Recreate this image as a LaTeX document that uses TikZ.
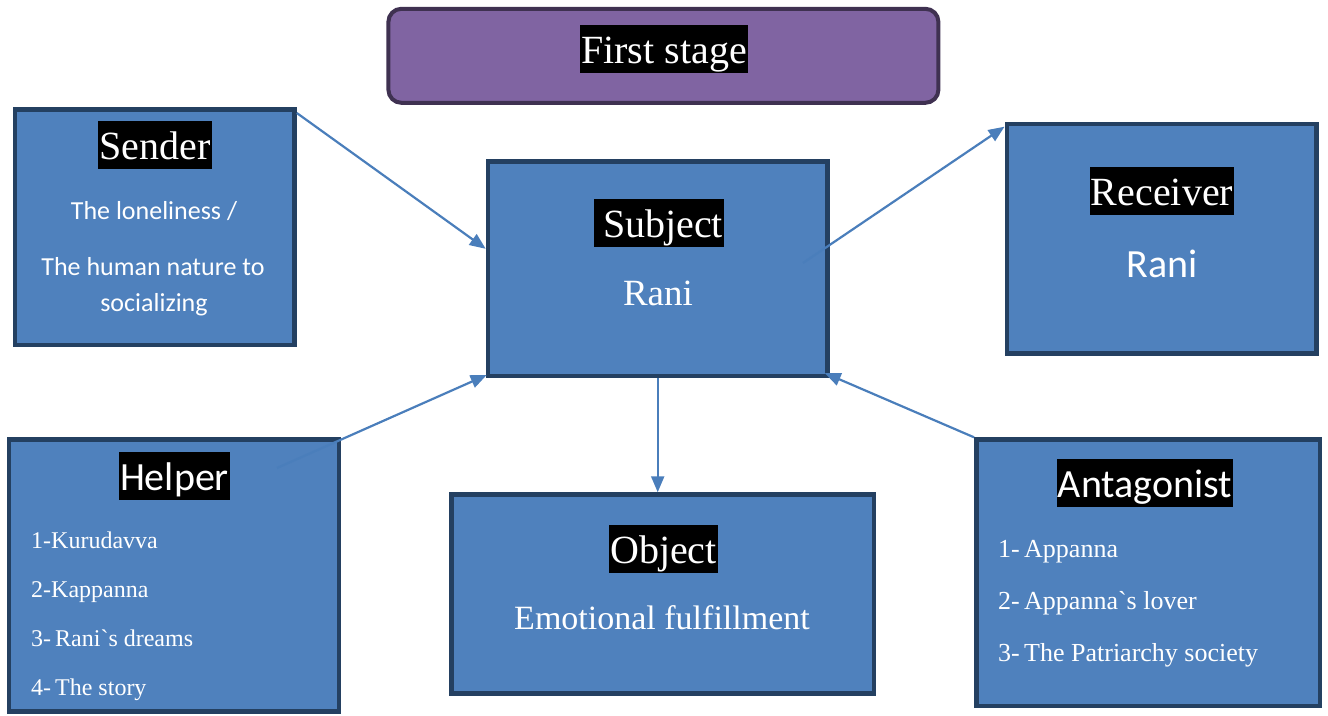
\documentclass[tikz,border=0pt]{standalone}
\usepackage{fontspec}
\setmainfont{Liberation Serif}
\newfontfamily\calibri{Carlito}
\definecolor{blue1}{RGB}{79, 129, 189}
\definecolor{navy1}{RGB}{36, 64, 97}
\definecolor{purple1}{RGB}{128, 100, 162}
\definecolor{plum1}{RGB}{63, 49, 81}
\definecolor{line1}{RGB}{74, 126, 187}
\usetikzlibrary{arrows.meta, calc}

\tikzset{
  actbox/.style={draw=navy1, fill=blue1, line width=4.5pt, rectangle, inner sep=0pt},
  tag/.style={fill=black, text=white, inner xsep=1pt, inner ysep=1pt, text height=37pt, text depth=9pt, anchor=base, font=\fontsize{40}{48}\selectfont},
  tagsans/.style={tag, font=\calibri\fontsize{40}{48}\selectfont},
  body/.style={text=white, inner sep=0pt, anchor=base},
  item/.style={body, anchor=base west},
  link/.style={draw=line1, line width=2.2pt, -{Triangle[length=16pt, width=13pt]}},
}

\begin{document}
\begin{tikzpicture}[x=1pt, y=-1pt]
  \useasboundingbox (0,0) rectangle (1328,715);

  % title
  \node[draw=plum1, fill=purple1, line width=4pt, rounded corners=13pt, minimum width=550pt, minimum height=94pt, inner sep=0pt] (stage) at (663.4,55.8) {};
  \node[tag] (stagetag) at (664,63) {First stage};

  % actant boxes
  \node[actbox, minimum width=279.5pt, minimum height=235.5pt] (sender) at (154.8,227) {};
  \node[actbox, minimum width=339.5pt, minimum height=214.5pt] (subject) at (657.7,268.5) {};
  \node[actbox, minimum width=309.5pt, minimum height=229.5pt] (receiver) at (1161.5,238.7) {};
  \node[actbox, minimum width=330pt, minimum height=272pt] (helper) at (174,575.7) {};
  \node[actbox, minimum width=422.5pt, minimum height=199pt] (object) at (662.5,594) {};
  \node[actbox, minimum width=343.5pt, minimum height=266.5pt] (antagonist) at (1148,572.8) {};

  % sender
  \node[tag] (sendertag) at (155,159) {Sender};
  \node[body, font=\calibri\fontsize{26}{31}\selectfont] (sender1) at (154,219) {The loneliness /};
  \node[body, font=\calibri\fontsize{26}{31}\selectfont] (sender2) at (153,275) {The human nature to};
  \node[body, font=\calibri\fontsize{26}{31}\selectfont] (sender3) at (154,311) {socializing};

  % subject
  \node[tag] (subjecttag) at (659,237) {\hspace{8pt}Subject};
  \node[body, font=\fontsize{37}{44}\selectfont] (subjectname) at (658,305) {Rani};

  % receiver
  \node[tag] (receivertag) at (1162,205) {Receiver};
  \node[body, font=\calibri\fontsize{40}{48}\selectfont] (receivername) at (1162,277) {Rani};

  % object
  \node[tag] (objecttag) at (663.5,563) {Object};
  \node[body, font=\fontsize{34}{41}\selectfont] (objectname) at (662,629) {Emotional fulfillment};

  % helper
  \node[tagsans] (helpertag) at (174.5,490) {Helper};
  \foreach \t [count=\i] in {1-Kurudavva, 2-Kappanna, 3-\,Rani\textasciigrave s dreams, 4-\,The story}
    \node[item, font=\fontsize{24}{29}\selectfont] (helper\i) at (31,{548+49.3*(\i-1)}) {\t};

  % antagonist
  \node[tagsans] (antagonisttag) at (1145,497) {Antagonist};
  \foreach \t [count=\i] in {1-\,Appanna, 2-\,Appanna\textasciigrave s lover, 3-\,The Patriarchy society}
    \node[item, font=\fontsize{26}{31}\selectfont] (antagonist\i) at (998,{557+52*(\i-1)}) {\t};

  % connectors
  \coordinate (subjectout) at (803,263);
  \coordinate (helperout) at (277,468);
  \draw[link] ($(sender.north east)+(0,6)$) -- ($(subject.north west)!0.41!(subject.south west)$);
  \draw[link] (subjectout) -- ($(receiver.north west)+(0,5)$);
  \draw[link] (helperout) -- ($(subject.south west)+(1,-3)$);
  \draw[link] (subject.south) -- (subject.south |- object.north);
  \draw[link] (antagonist.north west) -- ($(subject.south east)+(-5,-5)$);
\end{tikzpicture}
\end{document}
